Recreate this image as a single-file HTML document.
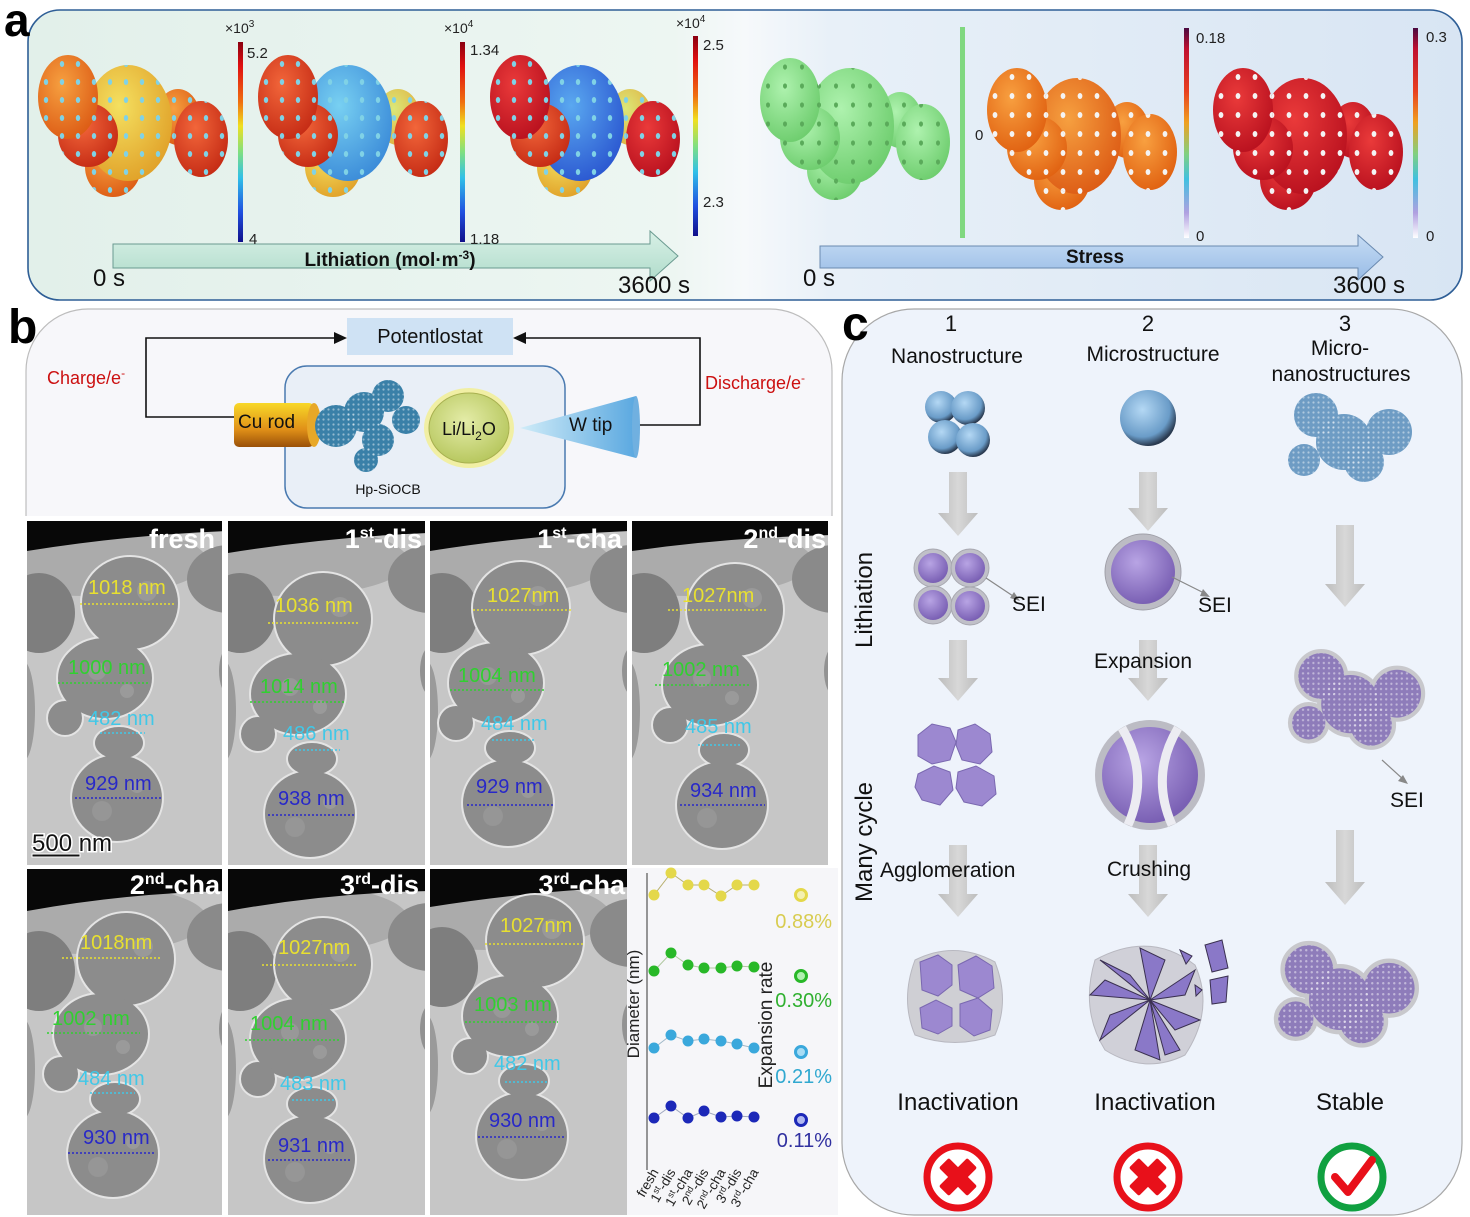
<!DOCTYPE html>
<html><head><meta charset="utf-8"><style>
html,body{margin:0;padding:0;background:#fff;}
svg{display:block;font-family:"Liberation Sans",Arial,sans-serif;}
</style></head><body>
<svg width="1470" height="1217" viewBox="0 0 1470 1217" xmlns="http://www.w3.org/2000/svg" xmlns:xlink="http://www.w3.org/1999/xlink">
<defs>
<linearGradient id="bgA" x1="0" y1="0" x2="1" y2="0"><stop offset="0" stop-color="#e2f0ea"/><stop offset="0.45" stop-color="#edf6f2"/><stop offset="0.5" stop-color="#f6f9fb"/><stop offset="0.56" stop-color="#e8f0f8"/><stop offset="1" stop-color="#d8e5f3"/></linearGradient>
<linearGradient id="jet" x1="0" y1="0" x2="0" y2="1"><stop offset="0" stop-color="#8a0010"/><stop offset="0.12" stop-color="#e01010"/><stop offset="0.3" stop-color="#f07010"/><stop offset="0.42" stop-color="#f0e020"/><stop offset="0.55" stop-color="#80e080"/><stop offset="0.68" stop-color="#30c0e8"/><stop offset="0.85" stop-color="#2050e0"/><stop offset="1" stop-color="#10108a"/></linearGradient>
<linearGradient id="strg" x1="0" y1="0" x2="0" y2="1"><stop offset="0" stop-color="#4a0a40"/><stop offset="0.1" stop-color="#c01030"/><stop offset="0.3" stop-color="#e84020"/><stop offset="0.45" stop-color="#f0a020"/><stop offset="0.6" stop-color="#80d080"/><stop offset="0.72" stop-color="#40c0e0"/><stop offset="0.88" stop-color="#b0a0e0"/><stop offset="1" stop-color="#ffffff"/></linearGradient>
<linearGradient id="arrA" x1="0" y1="0" x2="0" y2="1"><stop offset="0" stop-color="#d8f0e6"/><stop offset="1" stop-color="#b0dccb"/></linearGradient>
<linearGradient id="arrB" x1="0" y1="0" x2="0" y2="1"><stop offset="0" stop-color="#c6dcf4"/><stop offset="1" stop-color="#98bce6"/></linearGradient>
<radialGradient id="rR" cx="0.4" cy="0.35" r="0.7"><stop offset="0" stop-color="#f2663a"/><stop offset="1" stop-color="#c42a14"/></radialGradient>
<radialGradient id="rO" cx="0.4" cy="0.35" r="0.7"><stop offset="0" stop-color="#f6a040"/><stop offset="1" stop-color="#dc5a14"/></radialGradient>
<radialGradient id="rY" cx="0.4" cy="0.35" r="0.7"><stop offset="0" stop-color="#f4e060"/><stop offset="1" stop-color="#e0a028"/></radialGradient>
<radialGradient id="rC" cx="0.4" cy="0.35" r="0.7"><stop offset="0" stop-color="#78d0f2"/><stop offset="1" stop-color="#3a8ad8"/></radialGradient>
<radialGradient id="rB" cx="0.4" cy="0.35" r="0.7"><stop offset="0" stop-color="#5aa8f0"/><stop offset="1" stop-color="#2a56d0"/></radialGradient>
<radialGradient id="rG" cx="0.4" cy="0.35" r="0.7"><stop offset="0" stop-color="#aef2ae"/><stop offset="1" stop-color="#6ccc6c"/></radialGradient>
<radialGradient id="rD" cx="0.4" cy="0.35" r="0.7"><stop offset="0" stop-color="#ea3a3a"/><stop offset="1" stop-color="#b8101e"/></radialGradient>
<radialGradient id="rYG" cx="0.4" cy="0.35" r="0.7"><stop offset="0" stop-color="#dce878"/><stop offset="1" stop-color="#e0b040"/></radialGradient>
<radialGradient id="rO2" cx="0.4" cy="0.35" r="0.7"><stop offset="0" stop-color="#f8a040"/><stop offset="1" stop-color="#e06010"/></radialGradient>
<pattern id="ph" width="16" height="18" patternUnits="userSpaceOnUse"><ellipse cx="8" cy="9" rx="2.2" ry="3" fill="#80d2e6"/></pattern>
<pattern id="pw" width="17" height="19" patternUnits="userSpaceOnUse"><ellipse cx="8" cy="9" rx="2.4" ry="3" fill="#f4f4f4"/></pattern>
<pattern id="pg" width="17" height="19" patternUnits="userSpaceOnUse"><ellipse cx="8" cy="9" rx="2" ry="2.6" fill="#5aaa5a"/></pattern>
<pattern id="pd" width="5" height="5" patternUnits="userSpaceOnUse"><circle cx="2.5" cy="2.5" r="1.1" fill="#ffffff" fill-opacity="0.45"/></pattern>
<ellipse id="e_rs" cx="140" cy="62" rx="22" ry="28"/>
<ellipse id="e_rb" cx="163" cy="84" rx="27" ry="38"/>
<ellipse id="e_c" cx="90" cy="68" rx="44" ry="58"/>
<ellipse id="e_b" cx="75" cy="112" rx="28" ry="30"/>
<ellipse id="e_ll" cx="50" cy="80" rx="30" ry="32"/>
<ellipse id="e_tl" cx="30" cy="42" rx="30" ry="42"/>
<g id="chainGeo">
<ellipse cx="103" cy="82" rx="48" ry="46"/>
<ellipse cx="78" cy="157" rx="47" ry="40"/>
<circle cx="38" cy="197" r="17"/>
<ellipse cx="92" cy="222" rx="24" ry="16"/>
<ellipse cx="90" cy="277" rx="45" ry="43"/>
</g>
<g id="chain">
<use href="#chainGeo" fill="#e4e4e4" stroke="#e4e4e4" stroke-width="4"/>
<use href="#chainGeo" fill="#8c8c8c"/>
<circle cx="120" cy="70" r="10" fill="#a2a2a2" opacity="0.6"/>
<circle cx="70" cy="150" r="9" fill="#a0a0a0" opacity="0.6"/>
<circle cx="100" cy="170" r="7" fill="#a4a4a4" opacity="0.6"/>
<circle cx="75" cy="290" r="10" fill="#a0a0a0" opacity="0.5"/>
<circle cx="110" cy="265" r="7" fill="#a6a6a6" opacity="0.5"/>
</g>
<g id="temBg">
<rect width="200" height="350" fill="#c6c6c6"/>
<ellipse cx="60" cy="40" rx="120" ry="35" fill="#ababab"/>
<ellipse cx="12" cy="92" rx="36" ry="40" fill="#7e7e7e"/>
<ellipse cx="202" cy="58" rx="42" ry="34" fill="#8a8a8a"/>
<ellipse cx="-4" cy="190" rx="12" ry="50" fill="#9a9a9a"/>
<ellipse cx="202" cy="150" rx="10" ry="24" fill="#929292"/>
</g>
<g id="pcl">
<circle cx="30" cy="25" r="22"/>
<circle cx="58" cy="52" r="28"/>
<circle cx="103" cy="42" r="23"/>
<circle cx="18" cy="70" r="16"/>
<circle cx="78" cy="72" r="20"/>
</g>
<radialGradient id="sphB" cx="0.4" cy="0.35" r="0.65"><stop offset="0" stop-color="#b4d8f4"/><stop offset="0.75" stop-color="#6a9cc8"/><stop offset="1" stop-color="#2a3a50"/></radialGradient>
<radialGradient id="sphP" cx="0.4" cy="0.35" r="0.65"><stop offset="0" stop-color="#b8a4e4"/><stop offset="1" stop-color="#7a60b4"/></radialGradient>
<linearGradient id="arrC" x1="0" y1="0" x2="1" y2="0"><stop offset="0" stop-color="#bcbcbc"/><stop offset="0.5" stop-color="#d8d8d8"/><stop offset="1" stop-color="#bcbcbc"/></linearGradient>
<linearGradient id="cu" x1="0" y1="0" x2="0" y2="1"><stop offset="0" stop-color="#f8d828"/><stop offset="0.6" stop-color="#e09018"/><stop offset="1" stop-color="#9a5008"/></linearGradient>
<linearGradient id="wt" x1="0" y1="0" x2="1" y2="0"><stop offset="0" stop-color="#d0ecf8"/><stop offset="1" stop-color="#5aa8e0"/></linearGradient>
<radialGradient id="li" cx="0.45" cy="0.4" r="0.6"><stop offset="0" stop-color="#e4eca8"/><stop offset="1" stop-color="#b8c860"/></radialGradient>
</defs>

<!-- ===== Panel a ===== -->
<rect x="28" y="10" width="1434" height="290" rx="32" fill="url(#bgA)" stroke="#2e5e96" stroke-width="1.6"/>
<text x="4" y="36" font-size="46" font-weight="bold" fill="#000">a</text>

<!-- clusters -->
<g transform="translate(38,55)">
<use href="#e_rs" fill="url(#rO)"/><use href="#e_rs" fill="url(#ph)"/>
<use href="#e_rb" fill="url(#rR)"/><use href="#e_rb" fill="url(#ph)"/>
<use href="#e_b" fill="url(#rO)"/><use href="#e_b" fill="url(#ph)"/>
<use href="#e_c" fill="url(#rY)"/><use href="#e_c" fill="url(#ph)"/>
<use href="#e_ll" fill="url(#rR)"/><use href="#e_ll" fill="url(#ph)"/>
<use href="#e_tl" fill="url(#rO)"/><use href="#e_tl" fill="url(#ph)"/>
</g>
<g transform="translate(258,55)">
<use href="#e_rs" fill="url(#rYG)"/><use href="#e_rs" fill="url(#ph)"/>
<use href="#e_rb" fill="url(#rR)"/><use href="#e_rb" fill="url(#ph)"/>
<use href="#e_b" fill="url(#rY)"/><use href="#e_b" fill="url(#ph)"/>
<use href="#e_c" fill="url(#rC)"/><use href="#e_c" fill="url(#ph)"/>
<use href="#e_ll" fill="url(#rR)"/><use href="#e_ll" fill="url(#ph)"/>
<use href="#e_tl" fill="url(#rR)"/><use href="#e_tl" fill="url(#ph)"/>
</g>
<g transform="translate(490,55)">
<use href="#e_rs" fill="url(#rYG)"/><use href="#e_rs" fill="url(#ph)"/>
<use href="#e_rb" fill="url(#rD)"/><use href="#e_rb" fill="url(#ph)"/>
<use href="#e_b" fill="url(#rY)"/><use href="#e_b" fill="url(#ph)"/>
<use href="#e_c" fill="url(#rB)"/><use href="#e_c" fill="url(#ph)"/>
<use href="#e_ll" fill="url(#rR)"/><use href="#e_ll" fill="url(#ph)"/>
<use href="#e_tl" fill="url(#rD)"/><use href="#e_tl" fill="url(#ph)"/>
</g>
<g transform="translate(760,58)">
<use href="#e_rs" fill="url(#rG)"/><use href="#e_rs" fill="url(#pg)"/>
<use href="#e_rb" fill="url(#rG)"/><use href="#e_rb" fill="url(#pg)"/>
<use href="#e_b" fill="url(#rG)"/><use href="#e_b" fill="url(#pg)"/>
<use href="#e_c" fill="url(#rG)"/><use href="#e_c" fill="url(#pg)"/>
<use href="#e_ll" fill="url(#rG)"/><use href="#e_ll" fill="url(#pg)"/>
<use href="#e_tl" fill="url(#rG)"/><use href="#e_tl" fill="url(#pg)"/>
</g>
<g transform="translate(987,68)">
<use href="#e_rs" fill="url(#rO2)"/><use href="#e_rs" fill="url(#pw)"/>
<use href="#e_rb" fill="url(#rO2)"/><use href="#e_rb" fill="url(#pw)"/>
<use href="#e_b" fill="url(#rO2)"/><use href="#e_b" fill="url(#pw)"/>
<use href="#e_c" fill="url(#rO)"/><use href="#e_c" fill="url(#pw)"/>
<use href="#e_ll" fill="url(#rO2)"/><use href="#e_ll" fill="url(#pw)"/>
<use href="#e_tl" fill="url(#rO2)"/><use href="#e_tl" fill="url(#pw)"/>
</g>
<g transform="translate(1213,68)">
<use href="#e_rs" fill="url(#rD)"/><use href="#e_rs" fill="url(#pw)"/>
<use href="#e_rb" fill="url(#rD)"/><use href="#e_rb" fill="url(#pw)"/>
<use href="#e_b" fill="url(#rD)"/><use href="#e_b" fill="url(#pw)"/>
<use href="#e_c" fill="url(#rD)"/><use href="#e_c" fill="url(#pw)"/>
<use href="#e_ll" fill="url(#rD)"/><use href="#e_ll" fill="url(#pw)"/>
<use href="#e_tl" fill="url(#rD)"/><use href="#e_tl" fill="url(#pw)"/>
</g>

<!-- arrows a -->
<path d="M113,244 L650,244 L650,231 L678,256 L650,281 L650,268 L113,268 Z" fill="url(#arrA)" stroke="#6a9a90" stroke-width="1"/>
<text x="390" y="266" font-size="19" font-weight="bold" text-anchor="middle" fill="#111">Lithiation (mol·m<tspan dy="-7" font-size="12">-3</tspan><tspan dy="7">)</tspan></text>
<text x="93" y="286" font-size="24" fill="#111">0 s</text>
<text x="618" y="293" font-size="24" fill="#111">3600 s</text>
<path d="M820,246 L1358,246 L1358,235 L1383,257 L1358,280 L1358,268 L820,268 Z" fill="url(#arrB)" stroke="#6a8ab0" stroke-width="1"/>
<text x="1095" y="263" font-size="19" font-weight="bold" text-anchor="middle" fill="#111">Stress</text>
<text x="803" y="286" font-size="24" fill="#111">0 s</text>
<text x="1333" y="293" font-size="24" fill="#111">3600 s</text>

<!-- colorbars -->
<g font-size="15" fill="#222">
<rect x="238" y="42" width="5" height="200" fill="url(#jet)"/>
<text x="225" y="33" font-size="14">×10<tspan dy="-6" font-size="10">3</tspan></text>
<text x="247" y="58">5.2</text><text x="249" y="244">4</text>
<rect x="460" y="42" width="5" height="200" fill="url(#jet)"/>
<text x="444" y="33" font-size="14">×10<tspan dy="-6" font-size="10">4</tspan></text>
<text x="470" y="55">1.34</text><text x="470" y="244">1.18</text>
<rect x="693" y="36" width="5" height="200" fill="url(#jet)"/>
<text x="676" y="28" font-size="14">×10<tspan dy="-6" font-size="10">4</tspan></text>
<text x="703" y="50">2.5</text><text x="703" y="207">2.3</text>
<rect x="960" y="27" width="5" height="211" fill="#80d880"/>
<text x="975" y="140">0</text>
<rect x="1184" y="28" width="5" height="210" fill="url(#strg)"/>
<text x="1196" y="43">0.18</text><text x="1196" y="241">0</text>
<rect x="1413" y="28" width="5" height="210" fill="url(#strg)"/>
<text x="1426" y="42">0.3</text><text x="1426" y="241">0</text>
</g>

<!-- ===== Panel b ===== -->
<rect x="26" y="309" width="806" height="906" rx="62" fill="#f7f7fa" stroke="#bdbdbd" stroke-width="1.2"/>
<rect x="24" y="516" width="816" height="701" fill="#ffffff"/>
<text x="8" y="343" font-size="48" font-weight="bold" fill="#000">b</text>

<path d="M235,417 H146 V338 H336" fill="none" stroke="#111" stroke-width="1.6"/>
<polygon points="347,338 334,332 334,344" fill="#111"/>
<path d="M635,425 H700 V338 H525" fill="none" stroke="#111" stroke-width="1.6"/>
<polygon points="513,338 526,332 526,344" fill="#111"/>
<rect x="347" y="318" width="166" height="37" fill="#cfe2f4"/>
<text x="430" y="343" font-size="20" text-anchor="middle" fill="#111">Potentlostat</text>
<text x="47" y="384" font-size="18" fill="#cc1010">Charge/e<tspan dy="-7" font-size="12">-</tspan></text>
<text x="705" y="389" font-size="18" fill="#cc1010">Discharge/e<tspan dy="-7" font-size="12">-</tspan></text>
<rect x="285" y="366" width="280" height="142" rx="22" fill="#e9eff7" stroke="#4a7ab0" stroke-width="1.5"/>
<rect x="234" y="403" width="80" height="44" rx="5" fill="url(#cu)"/>
<ellipse cx="314" cy="425" rx="7" ry="22" fill="#e8a828"/>
<text x="238" y="428" font-size="19" fill="#111">Cu rod</text>
<g transform="translate(316,382)">
<g fill="#3a80a8"><circle cx="20" cy="44" r="21"/><circle cx="48" cy="30" r="20"/><circle cx="72" cy="14" r="16"/><circle cx="90" cy="38" r="14"/><circle cx="62" cy="58" r="16"/><circle cx="50" cy="78" r="12"/></g>
<g fill="url(#pd)"><circle cx="20" cy="44" r="21"/><circle cx="48" cy="30" r="20"/><circle cx="72" cy="14" r="16"/><circle cx="90" cy="38" r="14"/><circle cx="62" cy="58" r="16"/><circle cx="50" cy="78" r="12"/></g>
</g>
<text x="388" y="494" font-size="14" text-anchor="middle" fill="#111">Hp-SiOCB</text>
<ellipse cx="469" cy="428" rx="45" ry="40" fill="#f4f080" opacity="0.7"/>
<ellipse cx="469" cy="428" rx="40" ry="35" fill="url(#li)" stroke="#a8b050" stroke-width="1"/>
<text x="469" y="435" font-size="18" text-anchor="middle" fill="#111">Li/Li<tspan dy="5" font-size="12">2</tspan><tspan dy="-5">O</tspan></text>
<polygon points="520,428 636,396 636,458" fill="url(#wt)"/>
<ellipse cx="636" cy="427" rx="4" ry="31" fill="#70b0e0"/>
<text x="569" y="431" font-size="19" fill="#111">W tip</text>

<!-- TEM panels -->
<svg x="27" y="521" width="195" height="344"><use href="#temBg"/><path d="M0,0H200V10Q100,14 0,30Z" fill="#080808"/><use href="#chain"/></svg>
<svg x="228" y="521" width="197" height="344"><use href="#temBg"/><path d="M0,0H200V12Q100,16 0,32Z" fill="#080808"/><use href="#chain" transform="translate(-8,16)"/></svg>
<svg x="430" y="521" width="197" height="344"><use href="#temBg"/><path d="M0,0H200V10Q100,14 0,30Z" fill="#080808"/><use href="#chain" transform="translate(-12,5)"/></svg>
<svg x="632" y="521" width="196" height="344"><use href="#temBg"/><path d="M0,0H200V14Q100,16 0,30Z" fill="#080808"/><use href="#chain" transform="translate(0,7)"/></svg>
<svg x="27" y="869" width="195" height="346"><use href="#temBg" transform="translate(0,10)"/><path d="M0,0H200V22Q100,24 0,42Z" fill="#080808"/><use href="#chain" transform="translate(-4,8)"/></svg>
<svg x="228" y="869" width="197" height="346"><use href="#temBg" transform="translate(0,10)"/><path d="M0,0H200V22Q100,24 0,42Z" fill="#080808"/><use href="#chain" transform="translate(-8,13)"/></svg>
<svg x="430" y="869" width="197" height="346"><use href="#temBg" transform="translate(0,6)"/><path d="M0,0H200V18Q100,22 0,38Z" fill="#080808"/><use href="#chain" transform="translate(2,-10)"/></svg>

<g font-size="27" font-weight="bold" fill="#ffffff" text-anchor="end">
<text x="215" y="548">fresh</text>
<text x="422" y="548">1<tspan dy="-10" font-size="16">st</tspan><tspan dy="10">-dis</tspan></text>
<text x="622" y="548">1<tspan dy="-10" font-size="16">st</tspan><tspan dy="10">-cha</tspan></text>
<text x="826" y="548">2<tspan dy="-10" font-size="16">nd</tspan><tspan dy="10">-dis</tspan></text>
<text x="220" y="894">2<tspan dy="-10" font-size="16">nd</tspan><tspan dy="10">-cha</tspan></text>
<text x="419" y="894">3<tspan dy="-10" font-size="16">rd</tspan><tspan dy="10">-dis</tspan></text>
<text x="625" y="894">3<tspan dy="-10" font-size="16">rd</tspan><tspan dy="10">-cha</tspan></text>
</g>
<text x="32" y="851" font-size="24" fill="#111" stroke="#fff" stroke-width="3" paint-order="stroke">500 nm</text>
<rect x="32" y="854" width="48" height="3" fill="#111" stroke="#fff" stroke-width="1"/>

<g font-size="20">
<g fill="#e8e030"><text x="88" y="594">1018 nm</text><text x="275" y="612">1036 nm</text><text x="487" y="602">1027nm</text><text x="682" y="602">1027nm</text><text x="80" y="949">1018nm</text><text x="278" y="954">1027nm</text><text x="500" y="932">1027nm</text></g>
<g fill="#30d030"><text x="68" y="674">1000 nm</text><text x="260" y="693">1014 nm</text><text x="458" y="682">1004 nm</text><text x="662" y="676">1002 nm</text><text x="52" y="1025">1002 nm</text><text x="250" y="1030">1004 nm</text><text x="474" y="1011">1003 nm</text></g>
<g fill="#40c8e8"><text x="88" y="725">482 nm</text><text x="283" y="740">486 nm</text><text x="481" y="730">484 nm</text><text x="685" y="733">485 nm</text><text x="78" y="1085">484 nm</text><text x="280" y="1090">483 nm</text><text x="494" y="1070">482 nm</text></g>
<g fill="#2828c8"><text x="85" y="790">929 nm</text><text x="278" y="805">938 nm</text><text x="476" y="793">929 nm</text><text x="690" y="797">934 nm</text><text x="83" y="1144">930 nm</text><text x="278" y="1152">931 nm</text><text x="489" y="1127">930 nm</text></g>
</g>
<g stroke-width="1.5" stroke-dasharray="2 2">
<g stroke="#e8e030"><line x1="80" y1="604" x2="175" y2="604"/><line x1="268" y1="623" x2="358" y2="623"/><line x1="473" y1="610" x2="572" y2="610"/><line x1="668" y1="610" x2="768" y2="610"/><line x1="62" y1="958" x2="160" y2="958"/><line x1="262" y1="965" x2="358" y2="965"/><line x1="485" y1="944" x2="583" y2="944"/></g>
<g stroke="#30d030"><line x1="58" y1="683" x2="150" y2="683"/><line x1="250" y1="702" x2="345" y2="702"/><line x1="450" y1="690" x2="545" y2="690"/><line x1="655" y1="685" x2="750" y2="685"/><line x1="47" y1="1033" x2="140" y2="1033"/><line x1="245" y1="1040" x2="340" y2="1040"/><line x1="465" y1="1022" x2="558" y2="1022"/></g>
<g stroke="#40c8e8"><line x1="100" y1="733" x2="145" y2="733"/><line x1="295" y1="750" x2="340" y2="750"/><line x1="492" y1="740" x2="536" y2="740"/><line x1="698" y1="745" x2="742" y2="745"/><line x1="90" y1="1093" x2="135" y2="1093"/><line x1="292" y1="1100" x2="336" y2="1100"/><line x1="505" y1="1082" x2="548" y2="1082"/></g>
<g stroke="#2828c8"><line x1="75" y1="798" x2="162" y2="798"/><line x1="268" y1="815" x2="355" y2="815"/><line x1="467" y1="805" x2="553" y2="805"/><line x1="680" y1="805" x2="765" y2="805"/><line x1="68" y1="1153" x2="155" y2="1153"/><line x1="268" y1="1160" x2="352" y2="1160"/><line x1="478" y1="1137" x2="565" y2="1137"/></g>
</g>

<!-- chart -->
<rect x="627" y="868" width="211" height="347" fill="#f6f6f9"/>
<line x1="647" y1="873" x2="647" y2="1170" stroke="#555" stroke-width="1.2"/>
<text transform="translate(639,1004) rotate(-90)" font-size="17" text-anchor="middle" fill="#222">Diameter (nm)</text>
<text transform="translate(772,1025) rotate(-90)" font-size="19" text-anchor="middle" fill="#222">Expansion rate</text>
<polyline points="654,895 671,873 688,885 704,885 721,896 737,885 754,885" fill="none" stroke="#b8b070" stroke-width="1"/>
<polyline points="654,971 671,953 688,965 704,968 721,968 737,966 754,967" fill="none" stroke="#b0c8a0" stroke-width="1"/>
<polyline points="654,1048 671,1035 688,1041 704,1039 721,1041 737,1044 754,1048" fill="none" stroke="#a0b8c8" stroke-width="1"/>
<polyline points="654,1118 671,1106 688,1118 704,1111 721,1117 737,1116 754,1117" fill="none" stroke="#a0a8c0" stroke-width="1"/>
<g fill="#e4d84a"><circle cx="654" cy="895" r="5.5"/><circle cx="671" cy="873" r="5.5"/><circle cx="688" cy="885" r="5.5"/><circle cx="704" cy="885" r="5.5"/><circle cx="721" cy="896" r="5.5"/><circle cx="737" cy="885" r="5.5"/><circle cx="754" cy="885" r="5.5"/></g>
<g fill="#28b828"><circle cx="654" cy="971" r="5.5"/><circle cx="671" cy="953" r="5.5"/><circle cx="688" cy="965" r="5.5"/><circle cx="704" cy="968" r="5.5"/><circle cx="721" cy="968" r="5.5"/><circle cx="737" cy="966" r="5.5"/><circle cx="754" cy="967" r="5.5"/></g>
<g fill="#3aa8dc"><circle cx="654" cy="1048" r="5.5"/><circle cx="671" cy="1035" r="5.5"/><circle cx="688" cy="1041" r="5.5"/><circle cx="704" cy="1039" r="5.5"/><circle cx="721" cy="1041" r="5.5"/><circle cx="737" cy="1044" r="5.5"/><circle cx="754" cy="1048" r="5.5"/></g>
<g fill="#1c28b8"><circle cx="654" cy="1118" r="5.5"/><circle cx="671" cy="1106" r="5.5"/><circle cx="688" cy="1118" r="5.5"/><circle cx="704" cy="1111" r="5.5"/><circle cx="721" cy="1117" r="5.5"/><circle cx="737" cy="1116" r="5.5"/><circle cx="754" cy="1117" r="5.5"/></g>
<circle cx="801" cy="895" r="5.5" fill="#f4f0b0" stroke="#e4d84a" stroke-width="3"/>
<circle cx="801" cy="976" r="5.5" fill="#b0f0b0" stroke="#28b828" stroke-width="3"/>
<circle cx="801" cy="1052" r="5.5" fill="#a8dcf4" stroke="#3aa8dc" stroke-width="3"/>
<circle cx="801" cy="1120" r="5.5" fill="#b0b8f0" stroke="#1c28b8" stroke-width="3"/>
<g font-size="20" text-anchor="end">
<text x="832" y="928" fill="#d8cc50">0.88%</text>
<text x="832" y="1007" fill="#30b030">0.30%</text>
<text x="832" y="1083" fill="#30a8d0">0.21%</text>
<text x="832" y="1147" fill="#3030a0">0.11%</text>
</g>
<g font-size="13.5" fill="#222" text-anchor="end">
<text transform="translate(659,1172) rotate(-60)">fresh</text>
<text transform="translate(676,1172) rotate(-60)">1<tspan dy="-5" font-size="9">st</tspan><tspan dy="5">-dis</tspan></text>
<text transform="translate(693,1172) rotate(-60)">1<tspan dy="-5" font-size="9">st</tspan><tspan dy="5">-cha</tspan></text>
<text transform="translate(709,1172) rotate(-60)">2<tspan dy="-5" font-size="9">nd</tspan><tspan dy="5">-dis</tspan></text>
<text transform="translate(726,1172) rotate(-60)">2<tspan dy="-5" font-size="9">nd</tspan><tspan dy="5">-cha</tspan></text>
<text transform="translate(742,1172) rotate(-60)">3<tspan dy="-5" font-size="9">rd</tspan><tspan dy="5">-dis</tspan></text>
<text transform="translate(759,1172) rotate(-60)">3<tspan dy="-5" font-size="9">rd</tspan><tspan dy="5">-cha</tspan></text>
</g>

<!-- ===== Panel c ===== -->
<rect x="842" y="309" width="620" height="906" rx="72" fill="#eef3fb" stroke="#a8a8a8" stroke-width="1.2"/>
<text x="842" y="340" font-size="48" font-weight="bold" fill="#000">c</text>
<g font-size="22" text-anchor="middle" fill="#111">
<text x="951" y="331">1</text><text x="1148" y="331">2</text><text x="1345" y="331">3</text>
</g>
<g font-size="21" text-anchor="middle" fill="#111">
<text x="957" y="363">Nanostructure</text>
<text x="1153" y="361">Microstructure</text>
<text x="1340" y="355">Micro-</text>
<text x="1341" y="381">nanostructures</text>
</g>

<!-- arrows c -->
<g fill="url(#arrC)">
<path d="M949,472 H967 V513 H978 L958,536 L938,513 H949 Z"/>
<path d="M949,640 H967 V678 H978 L958,701 L938,678 H949 Z"/>
<path d="M949,845 H967 V894 H978 L958,917 L938,894 H949 Z"/>
<path d="M1139,472 H1157 V508 H1168 L1148,531 L1128,508 H1139 Z"/>
<path d="M1139,640 H1157 V678 H1168 L1148,701 L1128,678 H1139 Z"/>
<path d="M1139,845 H1157 V894 H1168 L1148,917 L1128,894 H1139 Z"/>
<path d="M1336,525 H1354 V584 H1365 L1345,607 L1325,584 H1336 Z"/>
<path d="M1336,830 H1354 V882 H1365 L1345,905 L1325,882 H1336 Z"/>
</g>

<!-- row 1 -->
<g fill="url(#sphB)"><circle cx="941" cy="407" r="16"/><circle cx="968" cy="408" r="17"/><circle cx="945" cy="437" r="17"/><circle cx="973" cy="440" r="17"/></g>
<circle cx="1148" cy="418" r="28" fill="url(#sphB)"/>
<g transform="translate(1286,390)"><use href="#pcl" fill="#6e9cc4"/><use href="#pcl" fill="url(#pd)"/></g>

<!-- row 2 -->
<g fill="#c0c0c8" stroke="#a8a8b0"><circle cx="933" cy="568" r="19"/><circle cx="970" cy="568" r="19"/><circle cx="933" cy="605" r="19"/><circle cx="970" cy="606" r="19"/></g>
<g fill="url(#sphP)"><circle cx="933" cy="568" r="15"/><circle cx="970" cy="568" r="15"/><circle cx="933" cy="605" r="15"/><circle cx="970" cy="606" r="15"/></g>
<line x1="986" y1="578" x2="1016" y2="598" stroke="#888" stroke-width="1.2"/><polygon points="1020,601 1010,598 1014,592" fill="#888"/>
<text x="1012" y="611" font-size="21" fill="#111">SEI</text>
<circle cx="1143" cy="572" r="38" fill="#bcbcc4" stroke="#a0a0a8"/>
<circle cx="1143" cy="572" r="32" fill="url(#sphP)"/>
<line x1="1172" y1="577" x2="1206" y2="594" stroke="#888" stroke-width="1.2"/><polygon points="1210,597 1200,596 1203,589" fill="#888"/>
<text x="1198" y="612" font-size="21" fill="#111">SEI</text>
<text transform="translate(872,600) rotate(-90)" font-size="24" text-anchor="middle" fill="#111">Lithiation</text>
<text x="1143" y="668" font-size="21" text-anchor="middle" fill="#111">Expansion</text>
<g transform="translate(1290,650) scale(1.04)"><use href="#pcl" fill="#e2e2e4" stroke="#c8c8cc" stroke-width="8"/><use href="#pcl" fill="#8e7cba"/><use href="#pcl" fill="url(#pd)"/></g>
<line x1="1382" y1="760" x2="1404" y2="780" stroke="#888" stroke-width="1.2"/><polygon points="1408,784 1398,781 1403,775" fill="#888"/>
<text x="1390" y="807" font-size="21" fill="#111">SEI</text>

<!-- row 3 -->
<g fill="#9c88d0" stroke="#7a68b0" stroke-width="1">
<path d="M918,735 L932,724 L950,728 L956,742 L950,760 L932,764 L918,756 Z"/>
<path d="M958,730 L975,724 L990,734 L992,752 L980,764 L962,760 L956,745 Z"/>
<path d="M918,774 L934,766 L950,772 L953,790 L940,805 L922,800 L915,787 Z"/>
<path d="M958,772 L976,766 L994,776 L996,794 L982,806 L964,802 L956,788 Z"/>
</g>
<circle cx="1150" cy="775" r="55" fill="#bcbcc4"/>
<circle cx="1150" cy="775" r="48" fill="url(#sphP)"/>
<g stroke="#ececf2" stroke-width="9" fill="none"><path d="M1122,728 Q1150,775 1128,825"/><path d="M1178,728 Q1150,775 1172,825"/></g>
<text transform="translate(872,842) rotate(-90)" font-size="24" text-anchor="middle" fill="#111">Many cycle</text>
<text x="880" y="877" font-size="21" fill="#111">Agglomeration</text>
<text x="1149" y="876" font-size="21" text-anchor="middle" fill="#111">Crushing</text>

<!-- row 4 -->
<path d="M915,960 Q955,940 995,962 Q1010,1000 995,1035 Q955,1050 915,1035 Q900,1000 915,960 Z" fill="#cfcfd4" stroke="#b8b8c0"/>
<g fill="#9c88d0" stroke="#7a68b0" stroke-width="1">
<path d="M920,962 L938,955 L952,965 L952,985 L938,996 L922,990 Z"/>
<path d="M958,965 L976,956 L992,966 L994,988 L978,998 L960,990 Z"/>
<path d="M920,1008 L936,1000 L952,1008 L952,1026 L938,1034 L922,1028 Z"/>
<path d="M960,1004 L978,998 L992,1010 L990,1030 L974,1036 L960,1026 Z"/>
</g>
<path d="M1095,960 Q1150,930 1195,965 Q1215,1010 1185,1055 Q1145,1075 1105,1050 Q1080,1010 1095,960 Z" fill="#d0d0d8" stroke="#b8b8c0"/>
<g fill="#8a78c8" stroke="#3a3050" stroke-width="1">
<polygon points="1150,1000 1100,960 1130,975"/>
<polygon points="1150,1000 1140,948 1165,960"/>
<polygon points="1150,1000 1195,970 1185,995"/>
<polygon points="1150,1000 1200,1020 1175,1030"/>
<polygon points="1150,1000 1160,1060 1135,1050"/>
<polygon points="1150,1000 1100,1040 1110,1015"/>
<polygon points="1150,1000 1090,995 1105,980"/>
<polygon points="1150,1000 1180,1050 1165,1055"/>
<polygon points="1205,945 1222,940 1228,968 1212,972"/>
<polygon points="1210,980 1228,976 1226,1002 1212,1004"/>
<polygon points="1180,950 1192,956 1186,964"/>
<polygon points="1195,985 1202,990 1196,996"/>
</g>
<g transform="translate(1276,942) scale(1.1)"><use href="#pcl" fill="#e2e2e4" stroke="#c8c8cc" stroke-width="8"/><use href="#pcl" fill="#8e7cba"/><use href="#pcl" fill="url(#pd)"/></g>

<g font-size="24" text-anchor="middle" fill="#111">
<text x="958" y="1110">Inactivation</text>
<text x="1155" y="1110">Inactivation</text>
<text x="1350" y="1110">Stable</text>
</g>
<!-- icons -->
<g>
<circle cx="958" cy="1177" r="31" fill="#fff" stroke="#e8101a" stroke-width="7"/>
<g transform="translate(958,1177) rotate(45)" fill="#e8101a"><rect x="-20" y="-7" width="40" height="14" rx="2"/><rect x="-7" y="-20" width="14" height="40" rx="2"/></g>
<circle cx="1148" cy="1177" r="31" fill="#fff" stroke="#e8101a" stroke-width="7"/>
<g transform="translate(1148,1177) rotate(45)" fill="#e8101a"><rect x="-20" y="-7" width="40" height="14" rx="2"/><rect x="-7" y="-20" width="14" height="40" rx="2"/></g>
<circle cx="1352" cy="1177" r="31" fill="#fff" stroke="#10a040" stroke-width="7"/>
<path d="M1335,1177 L1348,1192 L1372,1160" fill="none" stroke="#e8101a" stroke-width="8" stroke-linecap="round" stroke-linejoin="round"/>
</g>
</svg>
</body></html>
